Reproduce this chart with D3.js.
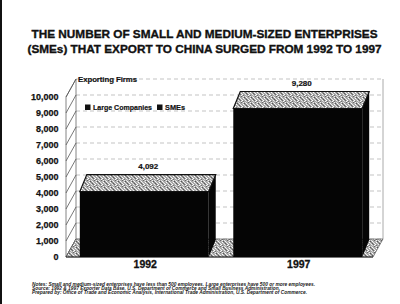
<!DOCTYPE html>
<html lang="en">
<head>
<meta charset="UTF-8">
<script src="https://d3js.org/d3.v7.min.js"></script>
<style>
  body { margin: 0; background: #fff; }
  svg { display: block; font-family: "Liberation Sans", Arial, sans-serif; }
  .heavy { stroke: #111; stroke-width: 0.35; }
</style>
</head>
<body>
<script>
// chart data
const categories = ["1992", "1997"];
const smeValues = [4092, 9280];
const valueLabels = ["4,092", "9,280"];
const yTicks = [0, 1000, 2000, 3000, 4000, 5000, 6000, 7000, 8000, 9000, 10000];
const legendKeys = ["Large Companies", "SMEs"];
const titleLines = [
  "THE NUMBER OF SMALL AND MEDIUM-SIZED ENTERPRISES",
  "(SMEs) THAT EXPORT TO CHINA SURGED FROM 1992 TO 1997"
];
const notes = [
  "Notes:  Small and medium-sized enterprises have less than 500 employees.  Large enterprises have 500 or more employees.",
  "Source:  1992 & 1997 Exporter Data Base, U.S. Department of Commerce and Small Business Administration.",
  "Prepared by:  Office of Trade and Economic Analysis, International Trade Administration, U.S. Department of Commerce."
];

let width = 400, height = 304;

let svg = d3.select("body").append("svg")
  .attr("width", width)
  .attr("height", height);

// stipple texture for top faces / floor
let defs = svg.append("defs");
let pat = defs.append("pattern")
  .attr("id", "stip")
  .attr("width", 7).attr("height", 6)
  .attr("patternUnits", "userSpaceOnUse");
pat.append("rect").attr("width", 7).attr("height", 6).attr("fill", "#a8a8a8");
[[0,0,"#e0e0e0"],[3,0,"#666"],[5,0,"#f0f0f0"],[1,1,"#fafafa"],[4,1,"#c8c8c8"],[6,1,"#555"],
 [0,2,"#777"],[2,2,"#e8e8e8"],[5,2,"#ffffff"],[1,3,"#5a5a5a"],[3,3,"#f2f2f2"],[6,3,"#d8d8d8"],
 [0,4,"#eeeeee"],[2,4,"#6a6a6a"],[4,4,"#ffffff"],[1,5,"#d0d0d0"],[3,5,"#f8f8f8"],[5,5,"#707070"]]
  .forEach(p => pat.append("rect").attr("x", p[0]).attr("y", p[1]).attr("width", 1).attr("height", 1).attr("fill", p[2]));

// scanner edge on the left
svg.append("rect").attr("x", 0).attr("y", 0).attr("width", 2).attr("height", height).attr("fill", "#111");

// title
svg.selectAll(".title")
  .data(titleLines)
  .join("text")
  .attr("class", "title heavy")
  .attr("x", 204.5)
  .attr("y", (d, i) => 37.5 + i * 15.5)
  .attr("text-anchor", "middle")
  .attr("font-size", 11.3)
  .attr("font-weight", "bold")
  .attr("textLength", (d, i) => i == 0 ? 346 : 354)
  .attr("lengthAdjust", "spacingAndGlyphs")
  .attr("fill", "#111")
  .text(d => d);

let x = d3.scaleBand()
  .domain(categories)
  .range([66, 376])
  .paddingInner(0.16)
  .paddingOuter(0.09);

let y = d3.scaleLinear()
  .domain([0, 10000])
  .range([257, 97]);

let fx0 = 66, fx1 = 373;      // front plane edges
let DX = 10, DY = -18;        // wall depth
let bDX = 7, bDY = -17;       // bar depth

// back wall
svg.append("rect")
  .attr("x", fx0 + DX).attr("y", y(10000) + DY)
  .attr("width", fx1 - fx0).attr("height", y(0) - y(10000))
  .attr("fill", "#fff");

svg.selectAll(".grid")
  .data(yTicks)
  .join("line")
  .attr("class", "grid")
  .attr("x1", fx0 + DX).attr("x2", fx1 + DX)
  .attr("y1", d => y(d) + DY).attr("y2", d => y(d) + DY)
  .attr("stroke", "#b4b4b4")
  .attr("stroke-width", 0.8)
  .attr("stroke-dasharray", "4,3");

svg.append("line")
  .attr("x1", fx1 + DX).attr("x2", fx1 + DX)
  .attr("y1", y(10000) + DY).attr("y2", y(0) + DY)
  .attr("stroke", "#aaa").attr("stroke-width", 1);

// left wall
svg.append("path")
  .attr("d", `M${fx0},${y(0)}L${fx0},${y(10000)}L${fx0 + DX},${y(10000) + DY}L${fx0 + DX},${y(0) + DY}Z`)
  .attr("fill", "#fff")
  .attr("stroke", "#666")
  .attr("stroke-width", 0.8);

svg.selectAll(".wall-tick")
  .data(yTicks)
  .join("line")
  .attr("class", "wall-tick")
  .attr("x1", fx0).attr("x2", fx0 + DX)
  .attr("y1", d => y(d)).attr("y2", d => y(d) + DY)
  .attr("stroke", "#555")
  .attr("stroke-width", 0.8);

// floor
svg.append("path")
  .attr("d", `M${fx0},${y(0)}L${fx1},${y(0)}L${fx1 + DX},${y(0) + DY}L${fx0 + DX},${y(0) + DY}Z`)
  .attr("fill", "url(#stip)")
  .attr("stroke", "#444")
  .attr("stroke-width", 0.6);
svg.append("line")
  .attr("x1", fx0).attr("x2", fx1)
  .attr("y1", y(0)).attr("y2", y(0))
  .attr("stroke", "#222").attr("stroke-width", 1.2);

// bars
let bars = svg.selectAll(".bar")
  .data(categories.map((c, i) => ({ cat: c, value: smeValues[i], label: valueLabels[i] })))
  .join("g")
  .attr("class", "bar");

bars.append("path")
  .attr("d", d => {
    let x1 = x(d.cat) + x.bandwidth(), yv = y(d.value), y0 = y(0);
    return `M${x1},${y0}L${x1},${yv}L${x1 + bDX},${yv + bDY}L${x1 + bDX},${y0 + bDY}Z`;
  })
  .attr("fill", "#050505");

bars.append("rect")
  .attr("x", d => x(d.cat))
  .attr("y", d => y(d.value))
  .attr("width", x.bandwidth())
  .attr("height", d => y(0) - y(d.value))
  .attr("fill", "#050505");

bars.append("path")
  .attr("d", d => {
    let x0 = x(d.cat), x1 = x0 + x.bandwidth(), yv = y(d.value);
    return `M${x0},${yv}L${x1},${yv}L${x1 + bDX},${yv + bDY}L${x0 + bDX},${yv + bDY}Z`;
  })
  .attr("fill", "url(#stip)")
  .attr("stroke", "#111")
  .attr("stroke-width", 1.2);

bars.append("text")
  .attr("class", "heavy")
  .attr("x", d => x(d.cat) + x.bandwidth() / 2 + 4)
  .attr("y", d => y(d.value) + bDY - 6)
  .attr("text-anchor", "middle")
  .attr("font-size", 8)
  .attr("font-weight", "bold")
  .attr("fill", "#111")
  .style("stroke-width", 0.2)
  .text(d => d.label);

// y axis labels
svg.selectAll(".ytick")
  .data(yTicks)
  .join("text")
  .attr("class", "ytick heavy")
  .attr("x", 58.5)
  .attr("y", d => y(d))
  .attr("dy", "0.35em")
  .attr("text-anchor", "end")
  .attr("font-size", 9)
  .attr("font-weight", "bold")
  .attr("fill", "#111")
  .style("stroke-width", 0.25)
  .text(d => d3.format(",")(d));

svg.append("text")
  .attr("class", "heavy")
  .attr("x", 78).attr("y", 82)
  .attr("font-size", 7.8)
  .attr("font-weight", "bold")
  .attr("fill", "#111")
  .attr("textLength", 59)
  .style("stroke-width", 0.2)
  .text("Exporting Firms");

// category labels
svg.selectAll(".xcat")
  .data(categories)
  .join("text")
  .attr("class", "xcat heavy")
  .attr("x", d => x(d) + x.bandwidth() / 2 + 1)
  .attr("y", 268)
  .attr("text-anchor", "middle")
  .attr("font-size", 10.5)
  .attr("font-weight", "bold")
  .attr("fill", "#111")
  .style("stroke-width", 0.3)
  .text(d => d);

// legend
let legX = [85, 157];
let legLen = [59, 20];
let leg = svg.selectAll(".leg")
  .data(legendKeys)
  .join("g")
  .attr("class", "leg")
  .attr("transform", (d, i) => `translate(${legX[i]},110)`);
leg.append("rect")
  .attr("x", 0).attr("y", -5.5)
  .attr("width", 5.5).attr("height", 5.5)
  .attr("fill", "#111");
leg.append("text")
  .attr("class", "heavy")
  .attr("x", 8).attr("y", 0)
  .attr("font-size", 7.6)
  .attr("font-weight", "bold")
  .attr("fill", "#111")
  .attr("textLength", (d, i) => legLen[i])
  .attr("lengthAdjust", "spacingAndGlyphs")
  .style("stroke-width", 0.2)
  .text(d => d);

// notes
let noteLen = [283, 248, 275];
svg.selectAll(".note")
  .data(notes)
  .join("text")
  .attr("class", "note")
  .attr("x", 32)
  .attr("y", (d, i) => [285.5, 289.5, 294][i])
  .attr("font-size", 4.8)
  .attr("font-weight", "bold")
  .attr("font-style", "italic")
  .attr("textLength", (d, i) => noteLen[i])
  .attr("lengthAdjust", "spacingAndGlyphs")
  .attr("fill", "#222")
  .text(d => d);
</script>
</body>
</html>
